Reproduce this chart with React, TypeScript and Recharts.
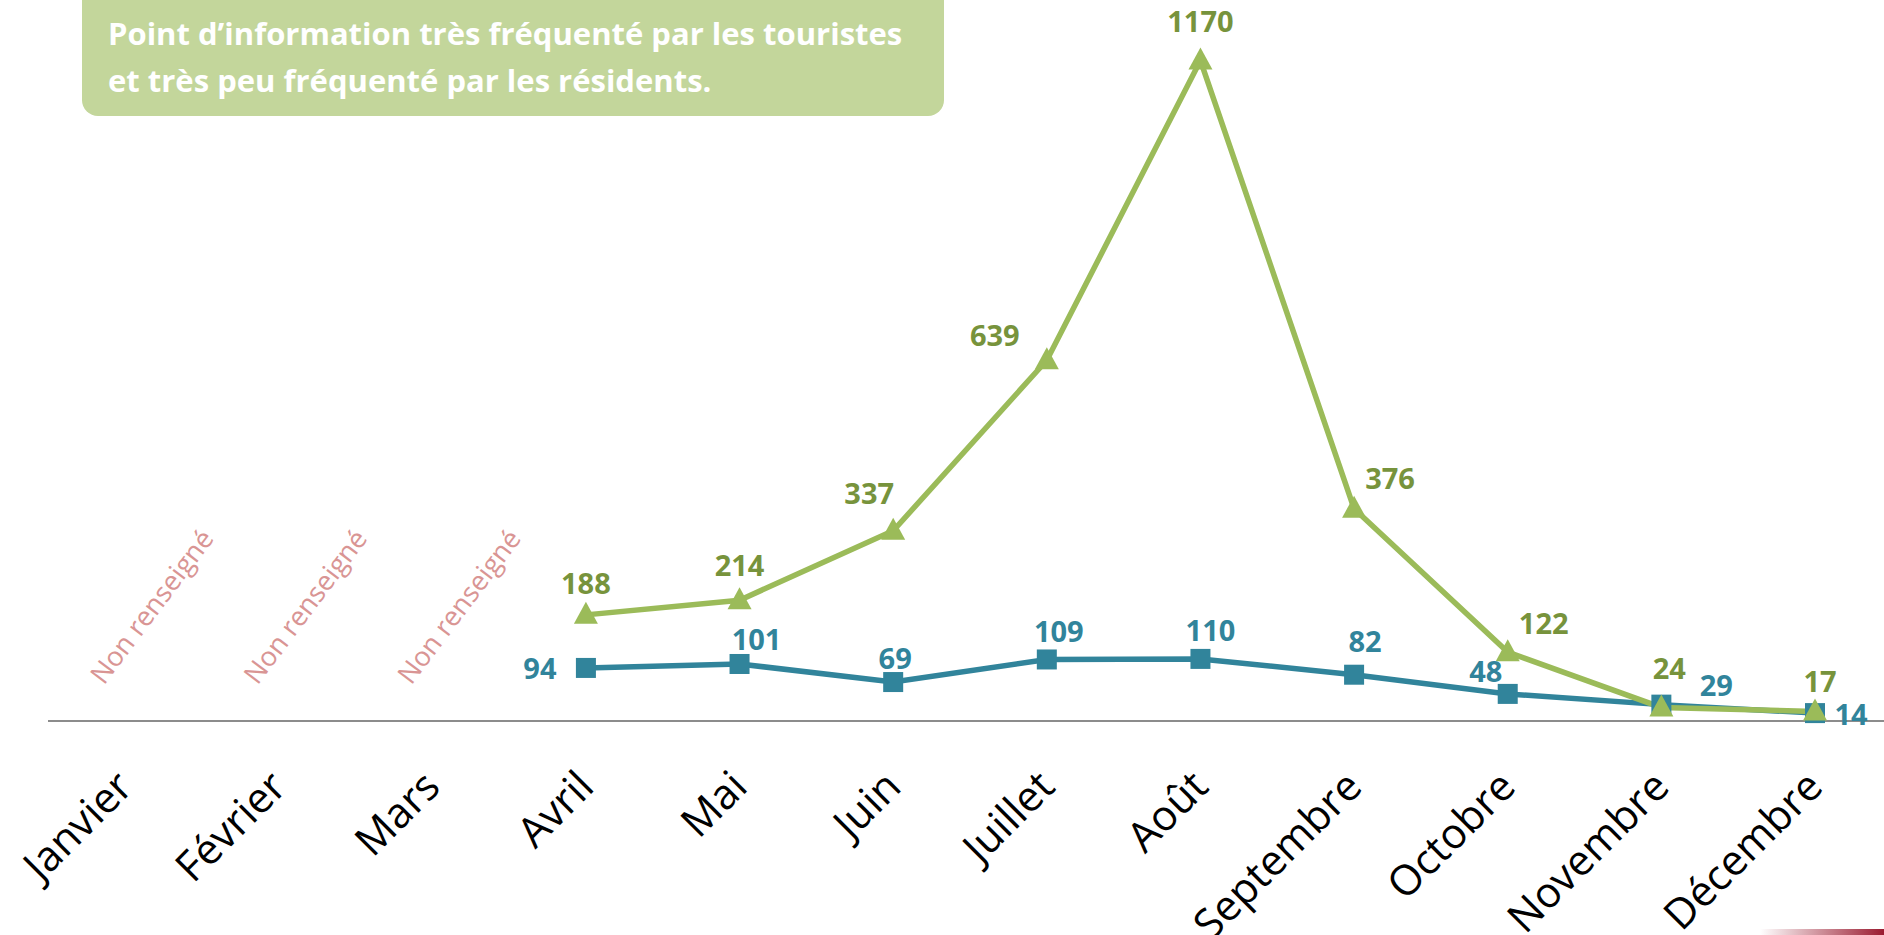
import React from "react";
import { LineChart, Line, XAxis, YAxis, LabelList } from "recharts";

const months = ["Janvier", "Février", "Mars", "Avril", "Mai", "Juin", "Juillet", "Août", "Septembre", "Octobre", "Novembre", "Décembre"];
const touristes = [null, null, null, 188, 214, 337, 639, 1170, 376, 122, 24, 17];
const residents = [null, null, null, 94, 101, 69, 109, 110, 82, 48, 29, 14];
const missingText = "Non renseigné";
const titleLines = ["Point d’information très fréquenté par les touristes", "et très peu fréquenté par les résidents."];

// label placement offsets (px) relative to each marker
const residentsLabelOffset: [number, number][] = [
  [0, 0], [0, 0], [0, 0], [-46, 0], [17, -25], [2, -25], [12, -29], [10, -29], [11, -34], [-22, -23], [55, -20], [36, 0],
];
const touristesLabelOffset: [number, number][] = [
  [0, 0], [0, 0], [0, 0], [0, -32], [0, -36], [-24, -38], [-52, -26], [0, -40], [36, -31], [36, -30], [8, -40], [5, -31],
];

const data = months.map((m, i) => ({ month: m, touristes: touristes[i], residents: residents[i] }));

const GREEN = "#9BBB59";
const GREEN_TXT = "#77933C";
const BLUE = "#31849B";
const FONT = "'Open Sans', 'Noto Sans', sans-serif";

const makeLabel = (offsets: [number, number][], color: string) => (props: any) => {
  const { x, y, value, index } = props;
  if (value == null) return null;
  const [dx, dy] = offsets[index];
  return (
    <text x={x + dx} y={y + dy} textAnchor="middle" dominantBaseline="central" fill={color} fontSize={29} fontWeight={700} fontFamily={FONT}>
      {value}
    </text>
  );
};

const MonthTick = (props: any) => {
  const { x, y, payload, index } = props;
  const missing = touristes[index] == null && residents[index] == null;
  return (
    <g>
      <text transform={`translate(${x + 10},${y + 66}) rotate(-45)`} textAnchor="end" fontSize={42} fill="#000" fontFamily={FONT}>
        {payload.value}
      </text>
      {missing && (
        <text transform={`translate(${x + 26},${y - 117}) rotate(-53)`} textAnchor="middle" dominantBaseline="central" fontSize={27} fill="#D99594" fontFamily={FONT}>
          {missingText}
        </text>
      )}
    </g>
  );
};

const Square = (props: any) => {
  const { cx, cy, value } = props;
  if (value == null || cx == null) return null;
  return <rect x={cx - 10} y={cy - 10} width={20} height={20} fill={BLUE} />;
};

const Triangle = (props: any) => {
  const { cx, cy, value } = props;
  if (value == null || cx == null) return null;
  return <path d={`M${cx},${cy - 13} L${cx + 12},${cy + 9} L${cx - 12},${cy + 9} Z`} fill={GREEN} />;
};

export default function App() {
  return (
    <div style={{ position: "absolute", left: 0, top: 0, width: 1884, height: 935, overflow: "hidden", background: "#fff" }}>
      <LineChart width={1892} height={935} data={data} margin={{ top: 21, right: 0, left: 48, bottom: 0 }}>
        <XAxis
          dataKey="month"
          height={214}
          tickSize={0}
          tickLine={false}
          interval={0}
          padding={{ left: 77, right: 77 }}
          axisLine={{ stroke: "#8C8C8C", strokeWidth: 2 }}
          tick={<MonthTick />}
        />
        <YAxis hide domain={[0, 1240]} />
        <Line
          dataKey="residents"
          stroke={BLUE}
          strokeWidth={5.5}
          dot={<Square />}
          activeDot={false}
          isAnimationActive={false}
          connectNulls={false}
        >
          <LabelList dataKey="residents" content={makeLabel(residentsLabelOffset, BLUE)} />
        </Line>
        <Line
          dataKey="touristes"
          stroke={GREEN}
          strokeWidth={5.5}
          dot={<Triangle />}
          activeDot={false}
          isAnimationActive={false}
        >
          <LabelList dataKey="touristes" content={makeLabel(touristesLabelOffset, GREEN_TXT)} />
        </Line>
      </LineChart>
      <div
        style={{
          position: "absolute",
          left: 82,
          top: -16,
          width: 862,
          height: 132,
          borderRadius: 16,
          background: "#C3D69B",
          color: "#fff",
          fontFamily: FONT,
          fontWeight: 700,
          fontSize: 31,
          lineHeight: "47px",
          paddingLeft: 26,
          paddingTop: 26,
          boxSizing: "border-box",
        }}
      >
        {titleLines.map((l, i) => (
          <div key={i} style={{ whiteSpace: "nowrap" }}>{l}</div>
        ))}
      </div>
      <div
        style={{
          position: "absolute",
          left: 1760,
          top: 929,
          width: 124,
          height: 6,
          background: "linear-gradient(to right, rgba(155,27,48,0), #9B1B30)",
        }}
      />
    </div>
  );
}
